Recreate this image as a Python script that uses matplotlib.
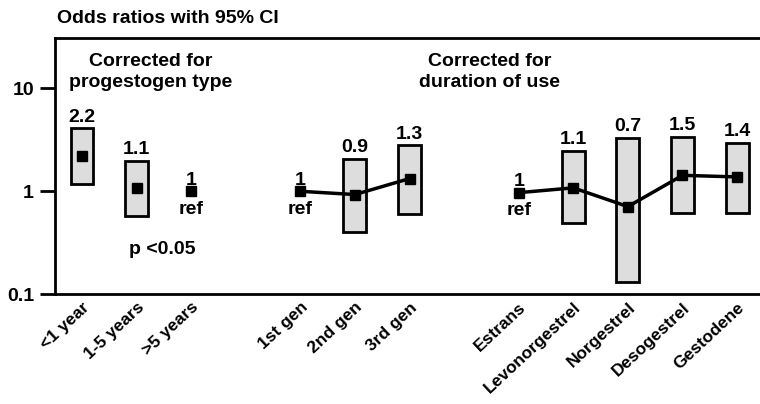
import numpy as np
import matplotlib.pyplot as plt
from matplotlib.patches import Rectangle

plt.rcParams['font.family'] = ['Liberation Sans', 'DejaVu Sans']
plt.rcParams['font.weight'] = 'bold'

labels = ['<1 year', '1-5 years', '>5 years',
          '1st gen', '2nd gen', '3rd gen',
          'Estrans', 'Levonorgestrel', 'Norgestrel', 'Desogestrel', 'Gestodene']
positions = [0, 1, 2, 4, 5, 6, 8, 9, 10, 11, 12]
odds = [2.2, 1.07, 1.0, 1.0, 0.93, 1.33, 0.97, 1.08, 0.71, 1.43, 1.38]
ci_low = [1.17, 0.57, None, None, 0.40, 0.60, None, 0.49, 0.13, 0.62, 0.62]
ci_high = [4.1, 1.97, None, None, 2.06, 2.8, None, 2.47, 3.3, 3.4, 2.95]
value_text = ['2.2', '1.1', '1', '1', '0.9', '1.3', '1', '1.1', '0.7', '1.5', '1.4']
is_ref = [False, False, True, True, False, False, True, False, False, False, False]
line_groups = [[3, 4, 5], [6, 7, 8, 9, 10]]

fig = plt.figure(figsize=(7.6, 4.04), dpi=100)
ax = fig.add_axes([0.072, 0.272, 0.928, 0.634])
ax.set_yscale('log')
ax.set_ylim(0.1, 31)
ax.set_xlim(-0.5, 12.42)

fs = 14
w = 0.42
for i, x in enumerate(positions):
    if ci_low[i] is not None:
        ax.add_patch(Rectangle((x - w / 2, ci_low[i]), w, ci_high[i] - ci_low[i],
                               facecolor='#dddddd', edgecolor='black', lw=2, zorder=2))
        top = ci_high[i]
    else:
        top = odds[i]
    ax.annotate(value_text[i], (x, top), xytext=(0, 2), textcoords='offset points',
                ha='center', va='bottom', fontsize=fs, fontweight='bold')
    if is_ref[i]:
        ax.annotate('ref', (x, odds[i]), xytext=(0, -7), textcoords='offset points',
                    ha='center', va='top', fontsize=fs, fontweight='bold')

for grp in line_groups:
    ax.plot([positions[i] for i in grp], [odds[i] for i in grp], color='black', lw=2.5, zorder=3)
ax.plot(positions, odds, 's', color='black', markersize=7, zorder=4)

ax.text(1.47, 0.27, 'p <0.05', ha='center', va='center', fontsize=fs, fontweight='bold')
ax.text(1.25, 14.5, 'Corrected for\nprogestogen type', ha='center', va='center',
        fontsize=fs, fontweight='bold', linespacing=1.3)
ax.text(7.47, 14.5, 'Corrected for\nduration of use', ha='center', va='center',
        fontsize=fs, fontweight='bold', linespacing=1.3)

ax.set_xticks(positions)
ax.set_xticklabels(labels, rotation=43, ha='right', rotation_mode='anchor',
                   fontsize=12.5, fontweight='bold')
ax.tick_params(axis='x', length=0, pad=4)
ax.set_yticks([0.1, 1, 10])
ax.set_yticklabels(['0.1', '1', '10'], fontsize=fs, fontweight='bold')
ax.yaxis.set_minor_locator(plt.NullLocator())
ax.tick_params(axis='y', length=11, width=2, pad=4)

for s in ['left', 'bottom', 'top']:
    ax.spines[s].set_linewidth(2)
ax.spines['right'].set_visible(False)

fig.text(0.075, 0.955, 'Odds ratios with 95% CI', ha='left', va='center',
         fontsize=14, fontweight='bold')

fig.savefig('out.png', dpi=100)
